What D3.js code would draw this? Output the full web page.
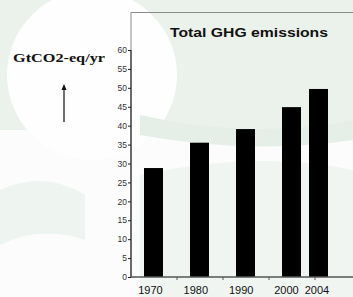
<!DOCTYPE html>
<html>
<head>
<meta charset="utf-8">
<script src="https://cdn.jsdelivr.net/npm/d3@7"></script>
<style>
  body { margin: 0; padding: 0; background: #fff; }
  svg { display: block; }
</style>
</head>
<body>
<div id="chart"></div>
<script>
// data
const YEARS = [1970, 1980, 1990, 2000, 2004];
const EMISSIONS = [28.8, 35.5, 39.1, 44.9, 49.7];
const Y_TICKS = [0, 5, 10, 15, 20, 25, 30, 35, 40, 45, 50, 55, 60];
const X_TICK_MARKS = [1975, 1985, 1995, 2005];

const TITLE = "Total GHG emissions";
const UNIT = "GtCO2-eq/yr";

const W = 353, H = 297;

const svg = d3.select("#chart").append("svg")
    .attr("width", W)
    .attr("height", H);

// faint watermark background
const bg = svg.append("g");
bg.append("rect").attr("width", W).attr("height", H).attr("fill", "#fbfcfb");
bg.append("rect").attr("width", W).attr("height", 130).attr("fill", "#ebf2ec");
bg.append("circle").attr("cx", 92).attr("cy", 75).attr("r", 85).attr("fill", "#fdfefd");
bg.append("path")
    .attr("d", "M0,190 Q45,170 85,195 L85,240 Q40,225 0,245 Z")
    .attr("fill", "#eef4ef");
bg.append("path")
    .attr("d", "M140,175 Q260,150 353,170 L353,297 L140,297 Z")
    .attr("fill", "#f0f5f1");
bg.append("path")
    .attr("d", "M140,115 Q250,140 353,120 L353,140 Q250,155 140,135 Z")
    .attr("fill", "#e6efe7");

// scales
const y = d3.scaleLinear().domain([0, 60]).range([277, 50]);
// bar centres (2004 sits closer to 2000 in the original)
const x = d3.scaleLinear().domain([1970, 2000, 2004]).range([153.5, 291.5, 318.5]);
// label centres, slightly offset from the bars as in the original
const xLabel = d3.scaleLinear().domain([1970, 2000, 2004]).range([150.5, 286.5, 317]);
// evenly spaced category slots for the x tick marks
const xSlots = d3.scaleLinear().domain([1965, 2015]).range([131, 361]);
const BAR_W = 19;

// frame
svg.append("path")
    .attr("d", "M131,277 V12.5 H353")
    .attr("fill", "none")
    .attr("stroke", "#8a8a8a")
    .attr("stroke-width", 1);

// bars
svg.selectAll(".bar")
    .data(YEARS.map((yr, i) => ({ yr, v: EMISSIONS[i] })))
    .enter()
    .append("rect")
    .attr("class", "bar")
    .attr("x", d => x(d.yr) - BAR_W / 2)
    .attr("y", d => y(d.v))
    .attr("width", BAR_W)
    .attr("height", d => y(0) - y(d.v))
    .attr("fill", "#000");

// y axis
const yAxis = svg.append("g")
    .attr("transform", "translate(131,0)")
    .call(d3.axisLeft(y).tickValues(Y_TICKS).tickSize(3).tickPadding(1));
yAxis.select(".domain").attr("stroke", "#111").attr("d", `M0,${y(0)}V${y(60)}`);
yAxis.selectAll(".tick line").attr("stroke", "#222");
yAxis.selectAll("text")
    .attr("font-family", "Liberation Sans, Arial, sans-serif")
    .attr("font-size", "8.5px")
    .attr("fill", "#333");

// x axis line and tick marks
svg.append("line")
    .attr("x1", 131).attr("x2", W)
    .attr("y1", y(0)).attr("y2", y(0))
    .attr("stroke", "#555").attr("stroke-width", 1.5);

svg.selectAll(".xtick")
    .data(X_TICK_MARKS)
    .enter()
    .append("line")
    .attr("x1", d => xSlots(d)).attr("x2", d => xSlots(d))
    .attr("y1", y(0)).attr("y2", y(0) + 3)
    .attr("stroke", "#555");

svg.selectAll(".xlabel")
    .data(YEARS)
    .enter()
    .append("text")
    .attr("x", d => xLabel(d))
    .attr("y", 294)
    .attr("text-anchor", "middle")
    .attr("font-family", "Liberation Sans, Arial, sans-serif")
    .attr("font-size", "11px")
    .attr("fill", "#111")
    .text(d => d);

// title
svg.append("text")
    .attr("x", 170)
    .attr("y", 37)
    .attr("textLength", 158)
    .attr("lengthAdjust", "spacingAndGlyphs")
    .attr("font-family", "Liberation Sans, Arial, sans-serif")
    .attr("font-weight", "bold")
    .attr("font-size", "12.5px")
    .attr("fill", "#111")
    .text(TITLE);

// unit label and arrow
svg.append("text")
    .attr("x", 13)
    .attr("y", 62)
    .attr("textLength", 92)
    .attr("lengthAdjust", "spacingAndGlyphs")
    .attr("font-family", "Liberation Serif, Times New Roman, serif")
    .attr("font-weight", "bold")
    .attr("font-size", "12.5px")
    .attr("fill", "#111")
    .text(UNIT);

svg.append("line")
    .attr("x1", 64).attr("x2", 64)
    .attr("y1", 122).attr("y2", 89)
    .attr("stroke", "#111").attr("stroke-width", 1.2);
svg.append("path")
    .attr("d", "M64,84 L61.5,90 L66.5,90 Z")
    .attr("fill", "#111");
</script>
</body>
</html>
